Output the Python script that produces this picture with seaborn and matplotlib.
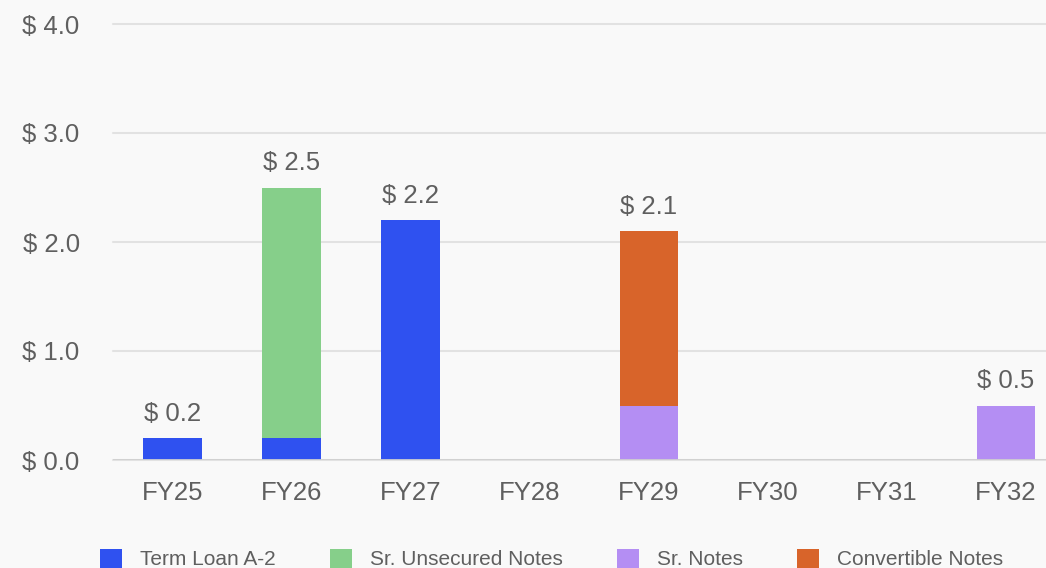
import numpy as np
import pandas as pd
import seaborn as sns
import matplotlib.pyplot as plt
from matplotlib.patches import Patch

years = ['FY25', 'FY26', 'FY27', 'FY28', 'FY29', 'FY30', 'FY31', 'FY32']
series = ['Term Loan A-2', 'Sr. Unsecured Notes', 'Sr. Notes', 'Convertible Notes']
term_loan = [0.2, 0.2, 2.2, 0.0, 0.0, 0.0, 0.0, 0.0]
sr_unsecured = [0.0, 2.3, 0.0, 0.0, 0.0, 0.0, 0.0, 0.0]
sr_notes = [0.0, 0.0, 0.0, 0.0, 0.5, 0.0, 0.0, 0.5]
convertible = [0.0, 0.0, 0.0, 0.0, 1.6, 0.0, 0.0, 0.0]
colors = ['#2f51f0', '#86cf8a', '#b48ef3', '#d8642a']

BG = '#f9f9f9'
TXT = '#5f5f5f'

sns.set_theme(style='white')
plt.rcParams['font.family'] = ['Liberation Sans', 'DejaVu Sans']

df = pd.DataFrame({'year': years, 'Term Loan A-2': term_loan,
                   'Sr. Unsecured Notes': sr_unsecured, 'Sr. Notes': sr_notes,
                   'Convertible Notes': convertible})
# cumulative stacks, drawn from the top layer down
cum = df[series].cumsum(axis=1)

fig = plt.figure(figsize=(10.46, 5.68), dpi=100, facecolor=BG)
ax = fig.add_axes([113 / 1046, 108 / 568, 952.5 / 1046, 436 / 568])
ax.set_facecolor(BG)

for s, c in reversed(list(zip(series, colors))):
    sns.barplot(x=df['year'], y=cum[s], color=c, width=0.49, linewidth=0,
                saturation=1, ax=ax, zorder=3)

totals = cum[series[-1]]
for i, t in enumerate(totals):
    if t > 0:
        ax.annotate(f'$ {t:.1f}', (i, t), xytext=(0, 9), textcoords='offset points',
                    ha='center', va='bottom', fontsize=18.5, color=TXT)

ax.set_xlim(-0.5, 7.5)
ax.set_ylim(0, 4.0)
ax.set_yticks([0, 1, 2, 3, 4])
ax.set_yticklabels([f'$ {v:.1f}' for v in [0, 1, 2, 3, 4]])
ax.set_xlabel('')
ax.set_ylabel('')
ax.grid(axis='y', color='#e2e2e2', linewidth=1.5, zorder=0)
for g in ax.get_ygridlines():
    g.set_clip_on(False)
ax.axhline(0, color='#d0d0d0', linewidth=2, zorder=4)
for sp in ax.spines.values():
    sp.set_visible(False)
ax.tick_params(axis='y', length=0, pad=24, labelsize=18.5, labelcolor=TXT)
ax.tick_params(axis='x', length=0, pad=15, labelsize=18.5, labelcolor=TXT)

handles = [Patch(facecolor=c, edgecolor='none', label=s) for s, c in zip(series, colors)]
fig.legend(handles=handles, loc='center left', bbox_to_anchor=(100 / 1046, 9 / 568),
           ncol=4, frameon=False, fontsize=15, labelcolor=TXT, borderpad=0,
           borderaxespad=0, handlelength=1.05, handleheight=1.05,
           handletextpad=0.87, columnspacing=2.6)

fig.savefig('out.png', dpi=100, facecolor=BG)
